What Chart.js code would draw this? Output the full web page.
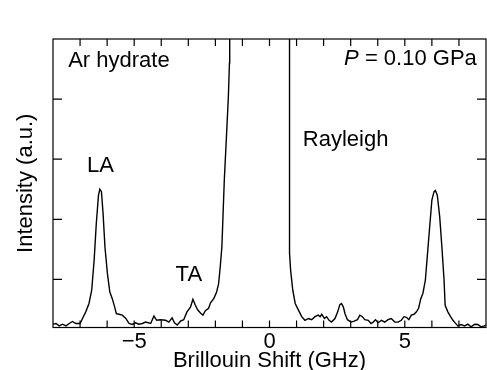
<!DOCTYPE html>
<html>
<head>
<meta charset="utf-8">
<script src="https://cdn.jsdelivr.net/npm/chart.js@4"></script>
<style>
  html, body { margin: 0; padding: 0; background: #fff; }
  #wrap { width: 487px; height: 370px; }
</style>
</head>
<body>
<div id="wrap"><canvas id="spectrum"></canvas></div>
<script>
// Brillouin spectrum
const shiftGHz = [
  -8.00, -7.89, -7.77, -7.65, -7.52, -7.40, -7.28, -7.16, -7.00, -6.91,
  -6.79, -6.67, -6.57, -6.48, -6.40, -6.32, -6.27, -6.21, -6.15, -6.08,
  -5.99, -5.90, -5.81, -5.72, -5.66, -5.56, -5.44, -5.31, -5.19, -5.07,
  -4.95, -4.83, -4.70, -4.58, -4.39, -4.27, -4.17, -4.03, -3.84, -3.72,
  -3.60, -3.51, -3.41, -3.29, -3.17, -3.05, -2.92, -2.83, -2.74, -2.65,
  -2.55, -2.46, -2.37, -2.25, -2.18, -2.06, -1.96, -1.88, -1.82, -1.76,
  -1.67, -1.59, -1.52, -1.48, -1.47, -1.45, 0.74, 0.74, 0.78, 0.86,
  0.95, 1.07, 1.19, 1.31, 1.44, 1.56, 1.68, 1.80, 1.87, 1.93,
  2.03, 2.11, 2.20, 2.29, 2.42, 2.52, 2.60, 2.66, 2.73, 2.79,
  2.88, 3.01, 3.13, 3.25, 3.34, 3.43, 3.52, 3.65, 3.75, 3.83,
  3.92, 4.01, 4.14, 4.26, 4.38, 4.50, 4.63, 4.75, 4.87, 4.97,
  5.06, 5.15, 5.24, 5.34, 5.43, 5.51, 5.59, 5.67, 5.76, 5.83,
  5.92, 6.00, 6.08, 6.13, 6.20, 6.29, 6.37, 6.45, 6.49, 6.59,
  6.69, 6.78, 6.86, 6.96, 7.08, 7.21, 7.33, 7.45, 7.58, 7.70,
  7.82, 7.94, 8.00
];
const intensity = [
  0.255, 0.267, 0.227, 0.255, 0.227, 0.267, 0.30, 0.267, 0.267, 0.35,
  0.46, 0.60, 0.82, 1.32, 1.93, 2.40, 2.50, 2.46, 2.10, 1.54,
  1.10, 0.79, 0.68, 0.54, 0.43, 0.42, 0.405, 0.35, 0.267, 0.25,
  0.277, 0.255, 0.267, 0.29, 0.267, 0.39, 0.32, 0.33, 0.32, 0.29,
  0.36, 0.277, 0.24, 0.305, 0.33, 0.46, 0.54, 0.67, 0.57, 0.49,
  0.44, 0.405, 0.48, 0.52, 0.61, 0.68, 0.78, 0.93, 1.21, 1.54,
  2.655, 3.38, 4.04, 4.60, 4.99, 7, 7, 1.44, 1.155, 0.82,
  0.60, 0.49, 0.38, 0.32, 0.35, 0.33, 0.38, 0.405, 0.38, 0.42,
  0.35, 0.38, 0.32, 0.29, 0.35, 0.46, 0.58, 0.60, 0.54, 0.43,
  0.33, 0.29, 0.305, 0.33, 0.405, 0.38, 0.33, 0.32, 0.267, 0.29,
  0.33, 0.277, 0.32, 0.29, 0.33, 0.35, 0.29, 0.29, 0.32, 0.38,
  0.37, 0.33, 0.405, 0.42, 0.46, 0.52, 0.68, 0.77, 0.99, 1.38,
  1.88, 2.32, 2.46, 2.48, 2.40, 2.04, 1.54, 0.99, 0.57, 0.46,
  0.38, 0.32, 0.277, 0.227, 0.25, 0.227, 0.255, 0.21, 0.255, 0.25,
  0.21, 0.227, 0.24
];

// axis ticks
const xTickValues = [-7, -6, -5, -4, -3, -2, -1, 0, 1, 2, 3, 4, 5, 6, 7];
const xLabelValues = [-5, 0, 5];
const xLabelTexts = ["\u22125", "0", "5"];
const yTickValues = [1, 2, 3, 4];

// text inside the plot (positions in data units)
const noteTexts = ["Ar hydrate", "LA", "TA", "Rayleigh"];
const noteX = [-7.44, -6.25, -2.98, 1.23];
const noteY = [4.54, 2.79, 0.97, 3.22];
const noteAlign = ["left", "center", "center", "left"];
const pressureX = 7.66;
const pressureY = 4.56;

const FONT = "'Liberation Sans', Arial, Helvetica, sans-serif";

const framePlugin = {
  id: "frame",
  afterDatasetsDraw(chart) {
    const { ctx, chartArea: a, scales } = chart;
    ctx.save();
    ctx.strokeStyle = "#000";
    ctx.lineWidth = 1.2;
    ctx.strokeRect(a.left, a.top, a.right - a.left, a.bottom - a.top);

    ctx.beginPath();
    xTickValues.forEach((v) => {
      const px = scales.x.getPixelForValue(v);
      ctx.moveTo(px, a.bottom);
      ctx.lineTo(px, a.bottom - 7);
      ctx.moveTo(px, a.top);
      ctx.lineTo(px, a.top + 7);
    });
    yTickValues.forEach((v) => {
      const py = scales.y.getPixelForValue(v);
      ctx.moveTo(a.left, py);
      ctx.lineTo(a.left + 9, py);
      ctx.moveTo(a.right, py);
      ctx.lineTo(a.right - 9, py);
    });
    ctx.stroke();

    // labels
    ctx.fillStyle = "#000";
    ctx.textBaseline = "alphabetic";
    ctx.font = "22px " + FONT;
    noteTexts.forEach((t, i) => {
      ctx.textAlign = noteAlign[i];
      ctx.fillText(t, scales.x.getPixelForValue(noteX[i]), scales.y.getPixelForValue(noteY[i]));
    });

    // P = 0.10 GPa, italic P
    const rx = scales.x.getPixelForValue(pressureX);
    const ry = scales.y.getPixelForValue(pressureY);
    const rest = " = 0.10 GPa";
    ctx.textAlign = "right";
    ctx.fillText(rest, rx, ry);
    const w = ctx.measureText(rest).width;
    ctx.font = "italic 22px " + FONT;
    ctx.fillText("P", rx - w, ry);
    ctx.restore();
  }
};

const points = shiftGHz.map((x, i) => ({ x: x, y: intensity[i] }));

new Chart(document.getElementById("spectrum"), {
  type: "line",
  data: {
    datasets: [
      {
        data: points,
        borderColor: "#000",
        borderWidth: 1.4,
        pointRadius: 0,
        tension: 0,
        fill: false
      }
    ]
  },
  options: {
    responsive: true,
    maintainAspectRatio: false,
    animation: false,
    layout: { padding: { top: 39, right: 1, left: 0, bottom: 0 } },
    plugins: { legend: { display: false }, tooltip: { enabled: false } },
    scales: {
      x: {
        type: "linear",
        min: -8,
        max: 8,
        grid: { display: false, drawTicks: false },
        border: { display: false },
        afterBuildTicks: (s) => {
          s.ticks = xLabelValues.map((v) => ({ value: v }));
        },
        ticks: {
          autoSkip: false,
          maxRotation: 0,
          padding: 1,
          color: "#000",
          font: { family: FONT, size: 22 },
          callback: (v) => xLabelTexts[xLabelValues.indexOf(v)]
        },
        title: {
          display: true,
          text: "Brillouin Shift (GHz)",
          color: "#000",
          padding: 0,
          font: { family: FONT, size: 22, lineHeight: 0.8 }
        },
        afterFit: (s) => {
          s.height = 42.5;
        }
      },
      y: {
        min: 0.2,
        max: 5,
        grid: { display: false, drawTicks: false },
        border: { display: false },
        ticks: { display: false },
        title: {
          display: true,
          text: "Intensity (a.u.)",
          color: "#000",
          padding: { top: 15, bottom: 0 },
          font: { family: FONT, size: 22, lineHeight: 1 }
        },
        afterFit: (s) => {
          s.width = 53;
        }
      }
    }
  },
  plugins: [framePlugin]
});
</script>
</body>
</html>
